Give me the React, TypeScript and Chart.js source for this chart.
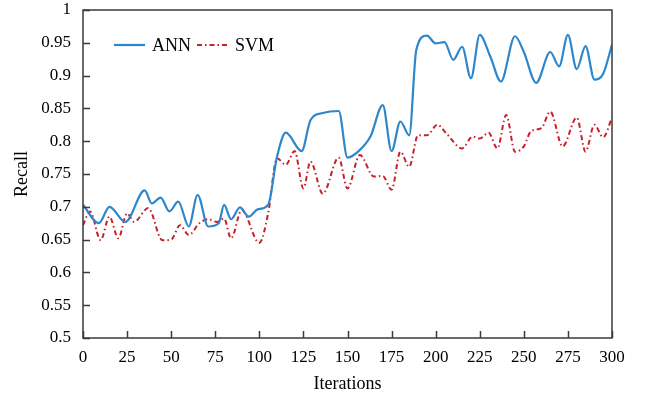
import React, { useEffect, useRef } from "react";
import { Chart, registerables } from "chart.js";

Chart.register(...registerables);

const annIterations = [0, 9, 15, 24, 35, 39, 44, 49, 54, 60, 65, 71, 77, 80, 84, 89, 94, 99, 105, 110, 115, 124, 129, 136, 145, 150, 156, 163, 170, 175, 180, 185, 189, 195, 200, 205, 210, 215, 220, 225, 231, 237, 245, 250, 257, 265, 270, 275, 280, 285, 290, 295, 300];
const annRecall = [0.703, 0.675, 0.700, 0.677, 0.725, 0.705, 0.714, 0.693, 0.708, 0.670, 0.718, 0.670, 0.675, 0.703, 0.681, 0.699, 0.685, 0.696, 0.703, 0.776, 0.813, 0.785, 0.832, 0.843, 0.846, 0.775, 0.784, 0.807, 0.855, 0.785, 0.830, 0.809, 0.939, 0.961, 0.949, 0.951, 0.924, 0.944, 0.896, 0.962, 0.929, 0.891, 0.960, 0.936, 0.889, 0.936, 0.914, 0.962, 0.910, 0.945, 0.894, 0.903, 0.947];

const svmIterations = [0, 4, 10, 15, 20, 25, 29, 37, 45, 50, 55, 60, 66, 71, 76, 80, 84, 90, 100, 105, 110, 115, 120, 125, 129, 136, 145, 150, 157, 165, 170, 175, 180, 185, 190, 195, 201, 206, 215, 221, 225, 230, 235, 240, 245, 250, 254, 260, 265, 272, 280, 285, 290, 295, 300];
const svmRecall = [0.672, 0.693, 0.649, 0.685, 0.652, 0.690, 0.677, 0.698, 0.649, 0.650, 0.672, 0.657, 0.675, 0.681, 0.677, 0.682, 0.652, 0.695, 0.645, 0.690, 0.774, 0.764, 0.785, 0.728, 0.769, 0.720, 0.775, 0.728, 0.779, 0.746, 0.747, 0.726, 0.784, 0.761, 0.809, 0.809, 0.825, 0.812, 0.789, 0.807, 0.804, 0.813, 0.789, 0.840, 0.784, 0.792, 0.815, 0.820, 0.845, 0.792, 0.836, 0.784, 0.825, 0.806, 0.836];

const xTickValues = [0, 25, 50, 75, 100, 125, 150, 175, 200, 225, 250, 275, 300];
const yTickValues = [0.5, 0.55, 0.6, 0.65, 0.7, 0.75, 0.8, 0.85, 0.9, 0.95, 1];
const seriesNames = ["ANN", "SVM"];
const xTitle = "Iterations";
const yTitle = "Recall";

const FONT = "'Liberation Serif', 'Times New Roman', serif";
const TEXT = "#000000";
const FRAME = "#3a3a3a";
const ANN_COLOR = "#2E86CB";
const SVM_COLOR = "#C8202A";
const SVM_DASH = [5, 3, 1.5, 3];

const framePlugin = {
  id: "frameAndLegend",
  afterDraw(chart: any) {
    const { ctx, chartArea: a, scales } = chart;
    ctx.save();
    ctx.strokeStyle = FRAME;
    ctx.lineWidth = 1.5;
    ctx.setLineDash([]);
    ctx.strokeRect(a.left, a.top, a.right - a.left, a.bottom - a.top);
    ctx.beginPath();
    scales.y.ticks.forEach((t: any) => {
      const py = Math.round(scales.y.getPixelForValue(t.value)) + 0.5;
      ctx.moveTo(a.left, py);
      ctx.lineTo(a.left + 7, py);
    });
    scales.x.ticks.forEach((t: any) => {
      const px = Math.round(scales.x.getPixelForValue(t.value)) + 0.5;
      ctx.moveTo(px, a.bottom);
      ctx.lineTo(px, a.bottom - 7);
    });
    ctx.stroke();

    // legend inside plot, top-left
    ctx.font = `18px ${FONT}`;
    ctx.textBaseline = "middle";
    ctx.textAlign = "left";
    const ly = a.top + 35;
    let lx = a.left + 31;
    chart.data.datasets.forEach((ds: any) => {
      ctx.beginPath();
      ctx.strokeStyle = ds.borderColor;
      ctx.lineWidth = ds.borderWidth;
      ctx.setLineDash(ds.borderDash || []);
      ctx.moveTo(lx, ly);
      ctx.lineTo(lx + 31, ly);
      ctx.stroke();
      ctx.setLineDash([]);
      ctx.fillStyle = TEXT;
      ctx.fillText(ds.label, lx + 38, ly + 1);
      lx = lx + 38 + ctx.measureText(ds.label).width + 6;
    });
    ctx.restore();
  },
};

export default function App() {
  const canvasRef = useRef<HTMLCanvasElement | null>(null);

  useEffect(() => {
    document.body.style.margin = "0";
    const canvas = canvasRef.current;
    if (!canvas) return;
    const chart = new Chart(canvas, {
      type: "line",
      data: {
        datasets: [
          {
            label: seriesNames[0],
            data: annIterations.map((x, i) => ({ x, y: annRecall[i] })),
            borderColor: ANN_COLOR,
            borderWidth: 2.2,
            pointRadius: 0,
            cubicInterpolationMode: "monotone",
            fill: false,
          },
          {
            label: seriesNames[1],
            data: svmIterations.map((x, i) => ({ x, y: svmRecall[i] })),
            borderColor: SVM_COLOR,
            borderWidth: 2,
            borderDash: SVM_DASH,
            pointRadius: 0,
            cubicInterpolationMode: "monotone",
            fill: false,
          },
        ],
      },
      options: {
        animation: false,
        responsive: false,
        devicePixelRatio: 1,
        layout: { padding: { top: 10, right: 40, left: 0, bottom: 0 } },
        plugins: {
          legend: { display: false },
          tooltip: { enabled: false },
        },
        scales: {
          x: {
            type: "linear",
            min: 0,
            max: 300,
            grid: { display: false, drawTicks: false },
            border: { display: false },
            afterBuildTicks: (s: any) => {
              s.ticks = xTickValues.map((v) => ({ value: v }));
            },
            afterFit: (s: any) => {
              s.height = 61;
              s.paddingLeft = 0;
              s.paddingRight = 0;
            },
            ticks: {
              padding: 9,
              maxRotation: 0,
              autoSkip: false,
              color: TEXT,
              font: { family: FONT, size: 17 },
            },
            title: {
              display: true,
              text: xTitle,
              color: TEXT,
              font: { family: FONT, size: 18 },
              padding: { top: 0, bottom: 4 },
            },
          },
          y: {
            type: "linear",
            min: 0.5,
            max: 1,
            grid: { display: false, drawTicks: false },
            border: { display: false },
            afterBuildTicks: (s: any) => {
              s.ticks = yTickValues.map((v) => ({ value: v }));
            },
            afterFit: (s: any) => {
              s.width = 83;
              s.paddingTop = 0;
              s.paddingBottom = 0;
            },
            ticks: {
              padding: 12,
              autoSkip: false,
              color: TEXT,
              font: { family: FONT, size: 17 },
              callback: (v: any) => String(Math.round(Number(v) * 100) / 100),
            },
            title: {
              display: true,
              text: yTitle,
              color: TEXT,
              font: { family: FONT, size: 18 },
              padding: { top: 11, bottom: 0 },
            },
          },
        },
      },
      plugins: [framePlugin],
    } as any);
    return () => chart.destroy();
  }, []);

  return (
    <div style={{ width: 652, height: 399, background: "#fff" }}>
      <canvas ref={canvasRef} width={652} height={399} style={{ display: "block", width: 652, height: 399 }} />
    </div>
  );
}
